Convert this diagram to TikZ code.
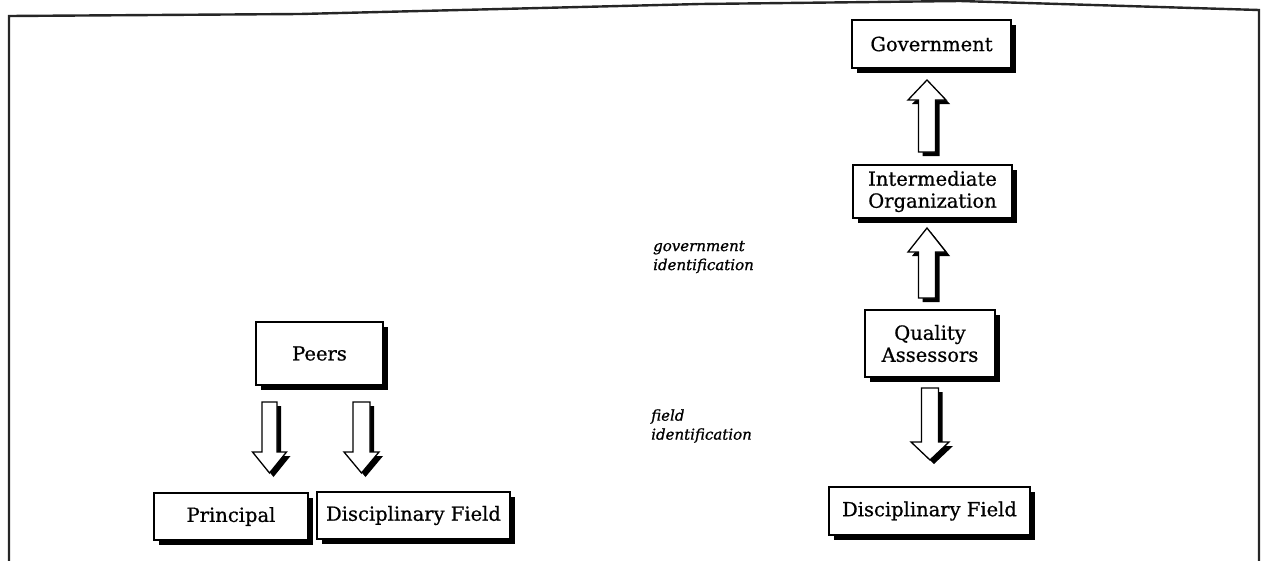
\documentclass[tikz,border=0pt]{standalone}
\usepackage{fontspec}
\setmainfont{DejaVu Serif}[FakeBold=0.7]
\newfontfamily\lblfont{DejaVu Serif}[FakeBold=0.7, ItalicFeatures={FakeBold=0.9}]
\usetikzlibrary{shadows}
\tikzset{
  box/.style={draw=black, line width=1.4pt, fill=white, align=center,
    font=\fontsize{19.5}{22}\selectfont, inner sep=2pt,
    drop shadow={shadow xshift=4.5pt, shadow yshift=-4.5pt, fill=black, opacity=1}},
  arrowshape/.style={draw=black, line width=1.3pt, fill=white, line join=miter,
    drop shadow={shadow xshift=4pt, shadow yshift=-4pt, fill=black, opacity=1}},
  frame/.style={draw=black!85, line width=2.4pt},
  lbl/.style={font=\lblfont\fontsize{15}{19}\selectfont\itshape, align=left, anchor=west, inner sep=0pt}
}
% #1 cx, #2 shaft end, #3 head base, #4 tip, #5 half shaft width, #6 half head width
\newcommand\blockarr[6]{%
  \path[arrowshape] (#1-#5,#2) -- (#1+#5,#2) -- (#1+#5,#3) -- (#1+#6,#3) -- (#1,#4)
    -- (#1-#6,#3) -- (#1-#5,#3) -- cycle;}
\begin{document}
\begin{tikzpicture}[x=1pt,y=-1pt]
\useasboundingbox (0,0) rectangle (1267,560);
% outer frame
\draw[frame] (9,566) -- (9,16) -- (300,14) -- (700,4) -- (960,1) -- (1259,10) -- (1259,566);

% left group
\node[box, minimum width=127pt, minimum height=63pt] (peers) at (319.5,353.5) {Peers};
\node[box, minimum width=154pt, minimum height=47pt] (principal) at (231,516.5) {Principal};
\node[box, minimum width=193pt, minimum height=47pt] (dfL) at (413.5,515.5) {Disciplinary Field};

\blockarr{269.5}{402}{452}{473}{7.5}{17}
\blockarr{361.5}{402}{452}{473}{8.5}{17.5}

% right group
\node[box, minimum width=159pt, minimum height=48pt] (gov) at (931.5,44) {Government};
\node[box, minimum width=159pt, minimum height=53pt] (inter) at (932.5,191.5) {Intermediate\\Organization};
\node[box, minimum width=130pt, minimum height=67pt] (qa) at (930,343.5) {Quality\\Assessors};
\node[box, minimum width=201pt, minimum height=48pt] (dfR) at (929.5,511) {Disciplinary Field};

\blockarr{927}{152}{100}{80}{8.5}{19}
\blockarr{927}{298}{252}{228}{8.5}{19}
\blockarr{930}{388}{442}{460}{8.5}{19}

% labels
\node[lbl] (govid) at (653,257) {government\\identification};
\node[lbl] (fieldid) at (651,426) {field\\identification};
\end{tikzpicture}
\end{document}
